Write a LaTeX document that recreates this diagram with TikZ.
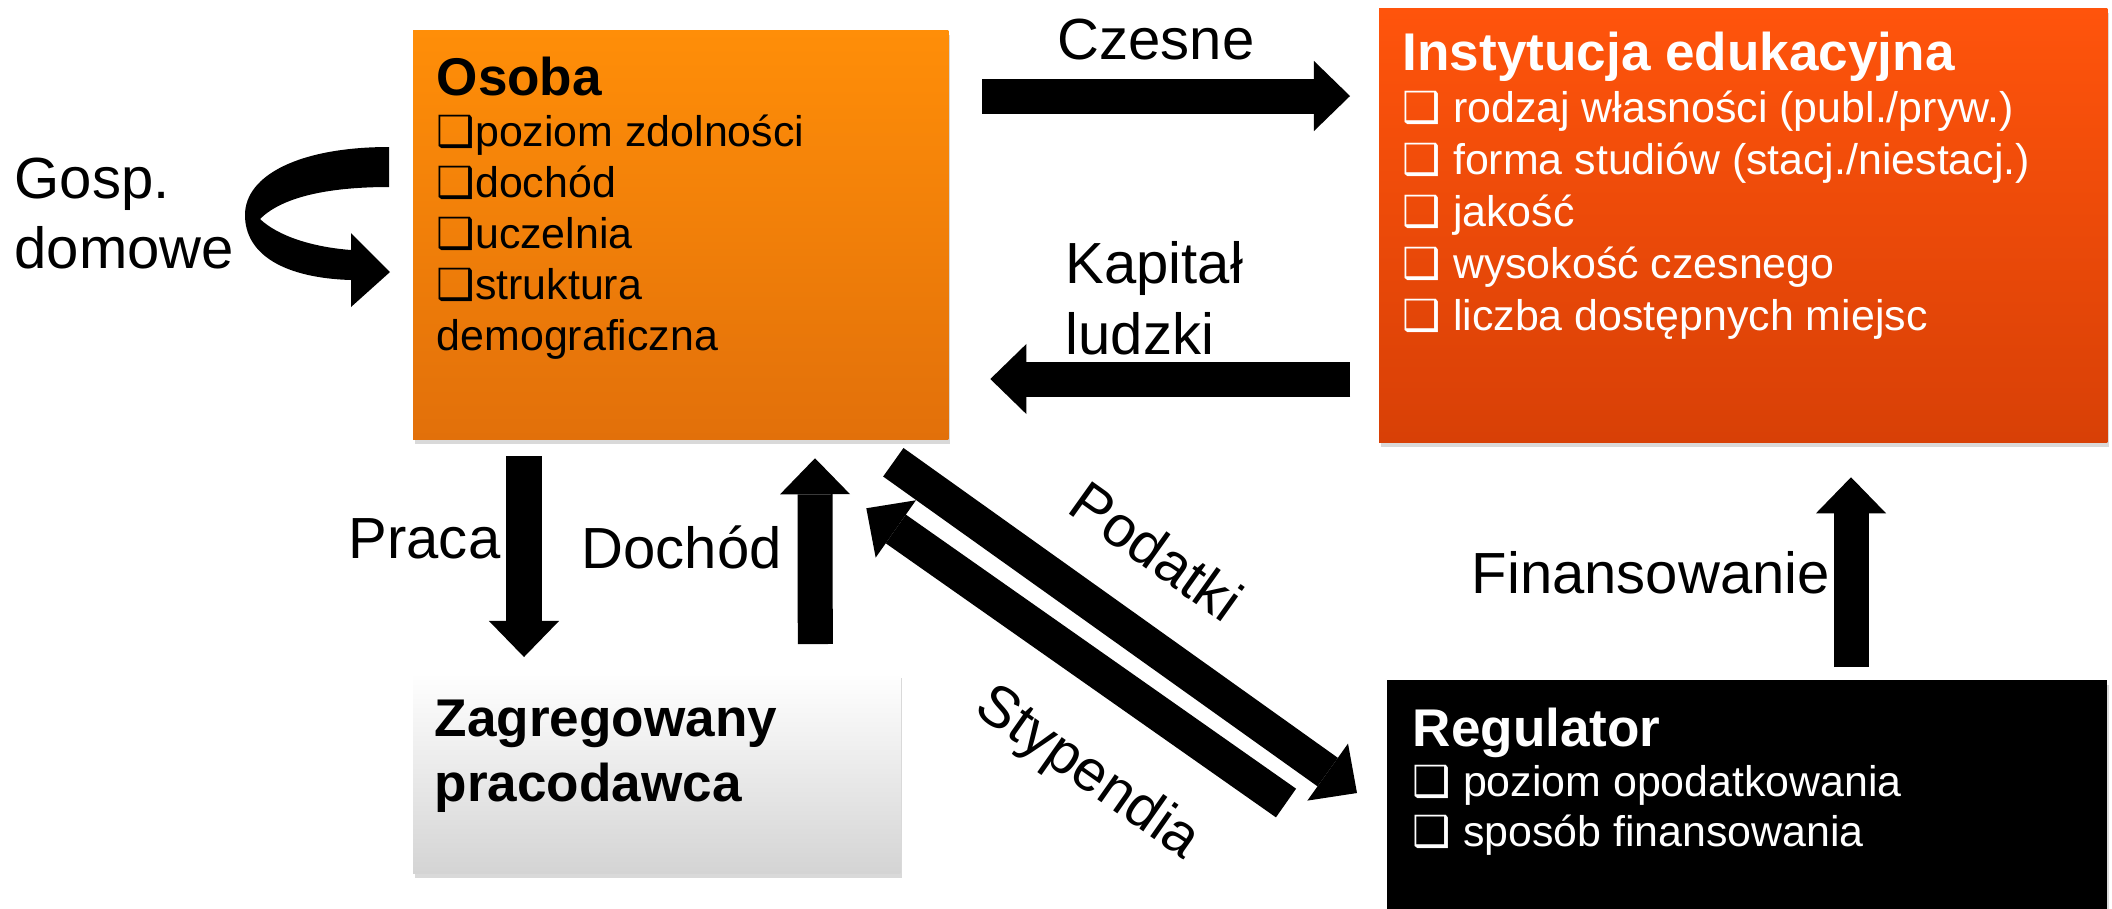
\documentclass[tikz,border=0pt]{standalone}
\usepackage{fontspec}
\setmainfont{Liberation Sans}
\newfontfamily\dingfont{DejaVu Sans}
\usepackage{tikz}
\usetikzlibrary{arrows.meta,calc,shadows,positioning}

\definecolor{osobaTop}{RGB}{255,142,8}
\definecolor{osobaBot}{RGB}{226,112,10}
\definecolor{instTop}{RGB}{255,84,12}
\definecolor{instBot}{RGB}{216,64,6}
\definecolor{zagBot}{RGB}{212,212,212}

\newcommand{\labfont}{\fontsize{16.5pt}{20pt}\selectfont}
\newcommand{\itemfont}[1]{\fontsize{12.2pt}{#1}\selectfont}
\newcommand{\headfont}{\fontsize{15.1pt}{18.5pt}\selectfont\bfseries}
\newcommand{\chk}{{\dingfont ❑}}

\begin{document}
\begin{tikzpicture}[x=0.01cm,y=-0.01cm,
	box/.style={anchor=north west,inner sep=0pt,outer sep=0pt,
		drop shadow={opacity=0.3,shadow xshift=0.02cm,shadow yshift=-0.05cm}},
	boxtxt/.style={anchor=north west,align=left,inner sep=0pt},
	lab/.style={font=\labfont,inner sep=0pt},
	blockarrow/.style={line width=0.35cm,-{Triangle[length=0.36cm,width=0.70cm,line width=0pt]}}]
\useasboundingbox (0,0) rectangle (2112,908);

%boxes
\node[box,top color=osobaTop,bottom color=osobaBot,minimum width=5.35cm,minimum height=4.09cm] (osoba) at (413,30) {};
\node[box,top color=instTop,bottom color=instBot,minimum width=7.28cm,minimum height=4.34cm] (inst) at (1379,8) {};
\node[box,top color=white,bottom color=zagBot,minimum width=4.87cm,minimum height=2.00cm] (zag) at (413,673) {};
\node[box,fill=black,minimum width=7.20cm,minimum height=2.60cm] (reg) at (1387,680) {};

%box texts
\node[boxtxt,font={\itemfont{14.5pt}}] (osobaTxt) at (436,56)
	{{\headfont Osoba}\\\chk poziom zdolności\\\chk dochód\\\chk uczelnia\\\chk struktura\\demograficzna};
\node[boxtxt,text=white,font={\itemfont{14.8pt}}] (instTxt) at (1402,31)
	{{\headfont Instytucja edukacyjna}\\\chk{} rodzaj własności (publ./pryw.)\\\chk{} forma studiów (stacj./niestacj.)\\\chk{} jakość\\\chk{} wysokość czesnego\\\chk{} liczba dostępnych miejsc};
\node[boxtxt,font=\headfont] (zagTxt) at (434,699) {Zagregowany\\pracodawca};
\node[boxtxt,text=white,font={\itemfont{14.2pt}}] (regTxt) at (1412,707)
	{{\headfont Regulator}\\\chk{} poziom opodatkowania\\\chk{} sposób finansowania};

%labels
\node[lab,anchor=base west] (czesne) at (1057,59) {Czesne};
\node[lab,anchor=north west,align=left] (kapital) at (1065,241) {Kapitał\\ludzki};
\node[lab,anchor=north west,align=left] (gosp) at (14,157) {Gosp.\\domowe};
\node[lab,anchor=base west] (praca) at (348,558) {Praca};
\node[lab,anchor=base west] (dochod) at (581,568) {Dochód};
\node[lab,anchor=base west] (finans) at (1471,593) {Finansowanie};

%Czesne
\draw[blockarrow] ($(osoba.north east)+(34,66)$) -- ($(inst.north west)+(-29,88)$);
%Kapital ludzki
\draw[blockarrow] ($(inst.north west)+(-29,371)$) -- ($(osoba.north east)+(42,349)$);
%Praca
\draw[blockarrow] ($(osoba.south west)+(111,17)$) -- ($(zag.north west)+(111,-16)$);
%Dochod
\draw[blockarrow] ($(zag.north east)+(-85,-29)$) -- ($(osoba.south west)+(402,19)$);
%Finansowanie
\draw[blockarrow] ($(reg.north west)+(464,-13)$) -- ($(inst.south west)+(472,35)$);
%Podatki
\draw[blockarrow] ($(osoba.south east)+(-55,23)$) -- node[lab,sloped,pos=0.467,above=0.42cm] (podatki) {Podatki} ($(reg.north west)+(-30,113)$);
%Stypendia
\draw[blockarrow] ($(reg.north west)+(-101,123)$) -- node[lab,sloped,pos=0.35,below=0.46cm] (stypendia) {Stypendia} ($(osoba.south east)+(-82,69)$);

%Gosp. domowe
\fill (389,147) .. controls (300,147) and (245,175) .. (245,215)
	.. controls (245,255) and (285,278) .. (351,280)
	-- (351,307) -- (390,272) -- (351,233) -- (351,250)
	.. controls (312,247) and (278,236) .. (260,219)
	.. controls (280,199) and (322,187) .. (389,187) -- cycle;

\end{tikzpicture}
\end{document}
